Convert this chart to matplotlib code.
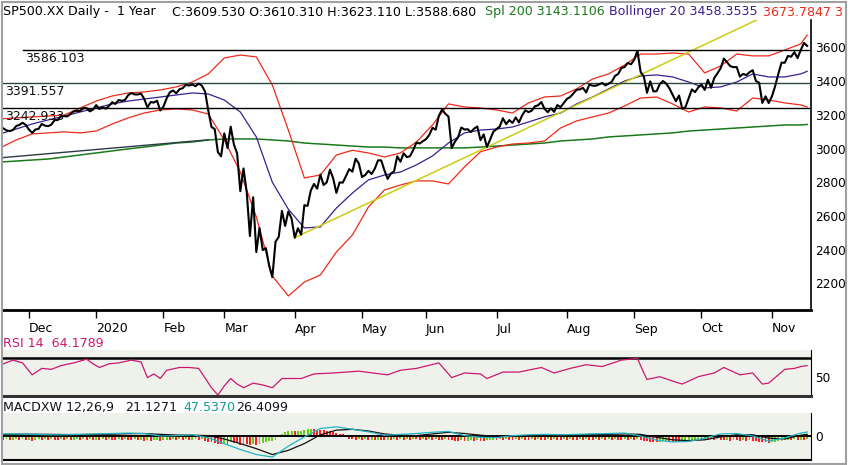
import numpy as np
import pandas as pd
import matplotlib
matplotlib.use("Agg")
import matplotlib.pyplot as plt
from matplotlib.patches import Rectangle

W, H = 850, 465

# trading calendar 18 Nov 2019 .. 17 Nov 2020
holidays = ["2019-11-28", "2019-12-25", "2020-01-01", "2020-01-20", "2020-02-17",
            "2020-04-10", "2020-05-25", "2020-07-03", "2020-09-07"]
days = pd.bdate_range("2019-11-18", "2020-11-17").drop(pd.to_datetime(holidays))

close = [
    3122, 3120, 3108, 3104, 3110, 3133, 3141, 3153, 3141,
    3113, 3093, 3113, 3117, 3146, 3136, 3133, 3142, 3169, 3169, 3192, 3192, 3191, 3206, 3221,
    3224, 3223, 3240, 3240, 3221, 3231,
    3258, 3235, 3246, 3237, 3253, 3275, 3265, 3288, 3283, 3289, 3317, 3330, 3321, 3321, 3326,
    3295, 3244, 3276, 3273, 3284, 3226,
    3249, 3298, 3334, 3345, 3328, 3352, 3358, 3379, 3374, 3380, 3370, 3386, 3373, 3338, 3226,
    3128, 3116, 2979, 2954,
    3090, 3003, 3130, 3024, 2972, 2747, 2882, 2741, 2481, 2711, 2386, 2529, 2398, 2409, 2305,
    2237, 2447, 2476, 2630, 2541, 2627, 2585,
    2471, 2527, 2489, 2664, 2660, 2750, 2790, 2762, 2846, 2784, 2800, 2875, 2823, 2737, 2799,
    2798, 2837, 2878, 2863, 2940, 2912,
    2831, 2843, 2868, 2849, 2881, 2930, 2930, 2871, 2820, 2852, 2864, 2954, 2922, 2972, 2949,
    2955, 2992, 3036, 3030, 3044,
    3056, 3081, 3123, 3112, 3194, 3232, 3207, 3190, 3002, 3041, 3067, 3125, 3113, 3115, 3098,
    3118, 3131, 3050, 3084, 3009, 3053, 3100,
    3116, 3130, 3180, 3145, 3169, 3152, 3185, 3155, 3197, 3227, 3216, 3225, 3251, 3257, 3276,
    3236, 3216, 3239, 3218, 3258, 3246, 3271,
    3295, 3306, 3327, 3349, 3351, 3360, 3333, 3380, 3373, 3373, 3381, 3389, 3375, 3385, 3397,
    3431, 3443, 3478, 3484, 3508, 3500,
    3527, 3580, 3455, 3427, 3331, 3399, 3339, 3341, 3383, 3401, 3385, 3357, 3319, 3281, 3315,
    3237, 3246, 3298, 3351, 3335, 3363,
    3381, 3348, 3408, 3361, 3419, 3447, 3477, 3534, 3512, 3489, 3483, 3484, 3427, 3443, 3436,
    3453, 3465, 3401, 3391, 3271, 3310, 3270,
    3310, 3370, 3443, 3510, 3509, 3550, 3545, 3572, 3537, 3585, 3627, 3609.53,
]

# bands / averages read every 5th session (plus the last one)
boll_upper = [3176, 3182, 3188, 3193, 3199, 3241, 3282, 3312, 3330, 3336,
              3348, 3366, 3395, 3443, 3538, 3555, 3544, 3377, 3110, 2826,
              2843, 2962, 2990, 2974, 2950, 2974, 3039, 3140, 3265, 3247,
              3241, 3229, 3211, 3271, 3306, 3312, 3354, 3413, 3443, 3496,
              3561, 3561, 3567, 3561, 3449, 3490, 3561, 3550, 3550, 3585,
              3621, 3673.78]
boll_mid = [3087, 3116, 3146, 3170, 3193, 3217, 3241, 3265, 3282, 3294,
            3306, 3318, 3330, 3324, 3288, 3217, 3069, 2800, 2640, 2529,
            2535, 2647, 2736, 2814, 2843, 2861, 2903, 2956, 3033, 3093,
            3110, 3116, 3128, 3158, 3188, 3211, 3265, 3306, 3354, 3401,
            3431, 3437, 3425, 3395, 3360, 3366, 3395, 3443, 3425, 3425,
            3443, 3458.35]
boll_lower = [3004, 3051, 3087, 3093, 3099, 3093, 3104, 3146, 3182, 3211,
              3229, 3235, 3229, 3205, 3051, 2861, 2594, 2244, 2125, 2208,
              2250, 2386, 2487, 2653, 2754, 2784, 2808, 2808, 2790, 2891,
              2981, 3009, 3027, 3033, 3045, 3122, 3164, 3188, 3211, 3253,
              3300, 3306, 3265, 3217, 3247, 3241, 3223, 3300, 3288, 3271,
              3259, 3247]
sma200 = [2920, 2926, 2932, 2938, 2950, 2962, 2974, 2986, 2998, 3009,
          3021, 3033, 3039, 3051, 3057, 3057, 3057, 3051, 3045, 3033,
          3027, 3021, 3015, 3009, 3009, 3004, 3004, 3004, 3004, 3004,
          3009, 3015, 3021, 3027, 3033, 3045, 3051, 3057, 3069, 3075,
          3081, 3087, 3093, 3104, 3110, 3116, 3122, 3128, 3134, 3140,
          3140, 3143.11]
macd_line = [25, 25, 20, 15, 15, 20, 25, 30, 35, 30,
             0, 5, 15, -20, -90, -160, -220, -250, -120, -10,
             90, 110, 80, 50, 10, 20, 30, 45, 55, 5,
             -15, -20, 5, 15, 20, 15, 20, 25, 30, 35,
             0, -50, -70, -65, -25, 25, 30, 0, -60, -20,
             35, 47.537]
macd_signal = [20, 22, 22, 20, 18, 18, 20, 22, 28, 30,
               20, 12, 10, 5, -35, -90, -150, -220, -170, -90,
               15, 70, 80, 60, 25, 10, 5, 25, 45, 30,
               10, -5, -5, 5, 10, 15, 15, 20, 20, 25,
               20, -15, -45, -55, -45, -10, 15, 15, -25, -35,
               10, 21.127]
macd_hist = [
    -40, -48, -36, -52, -42, -32, -48, -40, -52, -44,
    -55, -42, -36, -48, -40, -52, -32, -44, -50, -36,
    -46, -40, -52, -44, -36, -50, -40, -46, -36, -48,
    -44, -52, -40, -48, -36, -44, -50, -40, -46, -36,
    -44, -50, -40, -52, -46, -55, -50, -58, -52, -46,
    -55, -50, -44, -52, -40, -48, -36, -46, -40, -50,
    -44, -36, -48, -40, -55, -65, -75, -82, -92, -98,
    -80, -90, -72, -85, -88, -102, -90, -98, -110, -95,
    -104, -90, -86, -72, -64, -58, -45, 15, 30, 45,
    55, 60, 55, 60, 65, 72, 78, 82, 80, 76,
    74, 70, 62, 55, 48, 40, 30, 20, 10, -30,
    -40, -48, -36, -46, -40, -50, -44, -52, -44, -48,
    -52, -44, -50, -40, -46, -36, -44, -40, -48, -36,
    -40, -46, -36, -44, -40, -48, -36, -44, -50, -40,
    -46, -52, -55, -58, -52, -60, -55, -52, -58, -50,
    -55, -60, -52, -50, -44, -48, -40, -46, -36, -44,
    -48, -40, -46, -36, -44, -50, -40, -46, -36, -44,
    -50, -40, -46, -36, -44, -48, -40, -46, -36, -44,
    -50, -40, -46, -36, -44, -48, -40, -46, -36, -44,
    -40, -46, -36, -44, -50, -40, -46, -36, -44, -40,
    -50, -56, -62, -66, -70, -72, -68, -64, -62, -66,
    -70, -72, -75, -70, -64, -58, -54, -50, -44, -48,
    -40, -46, -36, -44, -40, -48, -52, -46, -55, -50,
    -52, -55, -50, -58, -52, -60, -64, -68, -72, -76,
    -78, -74, -68, -62, -55, -50, -44, -48, -40, -46,
    -44, -48, -40,
]

rsi_dates = ["2019-11-19", "2019-11-22", "2019-11-27", "2019-12-03", "2019-12-06",
             "2019-12-11", "2019-12-16", "2019-12-20", "2019-12-27", "2019-12-31",
             "2020-01-03", "2020-01-08", "2020-01-13", "2020-01-17", "2020-01-23",
             "2020-01-27", "2020-01-29", "2020-01-31", "2020-02-04", "2020-02-10",
             "2020-02-13", "2020-02-19", "2020-02-25", "2020-02-27", "2020-03-02",
             "2020-03-04", "2020-03-06", "2020-03-10", "2020-03-13", "2020-03-18",
             "2020-03-23", "2020-03-26", "2020-04-03", "2020-04-09", "2020-04-20",
             "2020-04-30", "2020-05-13", "2020-05-19", "2020-05-27", "2020-06-05",
             "2020-06-11", "2020-06-17", "2020-06-24", "2020-06-26", "2020-07-06",
             "2020-07-13", "2020-07-22", "2020-07-28", "2020-08-04", "2020-08-11",
             "2020-08-18", "2020-08-26", "2020-09-02", "2020-09-04", "2020-09-08",
             "2020-09-14", "2020-09-21", "2020-09-23", "2020-09-30", "2020-10-07",
             "2020-10-12", "2020-10-19", "2020-10-23", "2020-10-28", "2020-10-30",
             "2020-11-06", "2020-11-11", "2020-11-13", "2020-11-17"]
rsi_vals = [64, 68, 65, 52, 59, 58, 62, 65, 69, 64,
            60, 64, 65, 68, 66, 49, 53, 48, 57, 60,
            60, 59, 38, 30, 40, 48, 42, 38, 43, 41,
            38, 48, 48, 53, 54, 56, 52, 57, 59, 65,
            49, 54, 53, 48, 55, 55, 60, 54, 59, 63,
            61, 68, 70, 54, 47, 50, 44, 42, 50, 54,
            60, 52, 54, 42, 43, 58, 59, 61, 62]

levels = [3586.103, 3391.557, 3242.933]
level_start = ["2019-11-27", "2019-11-18", "2019-11-18"]
trend_dates = ["2020-04-01", "2020-10-27"]
trend_vals = [2471, 3770]
trend2_dates = ["2019-11-18", "2020-02-24"]
trend2_vals = [2945, 3052]
month_labels = ["Dec", "2020", "Feb", "Mar", "Apr", "May", "Jun", "Jul", "Aug", "Sep", "Oct", "Nov"]

pos = pd.Series(np.arange(len(days)), index=days)
xi = pos.values
band_x = np.r_[xi[::5], xi[-1]]
month_first = pos.groupby([days.year, days.month]).first().values[1:]


def px(names):
    return pos[pd.to_datetime(names)].values


def box(x0, y0, x1, y1):
    return [x0 / W, 1 - y1 / H, (x1 - x0) / W, (y1 - y0) / H]


fig = plt.figure(figsize=(W / 100, H / 100), dpi=100)
XL = (0.9, 253.2)

# ---- price panel
ax = fig.add_axes(box(3, 20, 811, 310))
ax.set_xlim(*XL)
ax.set_ylim(2042, 3763)
ax.plot(band_x, sma200, color="#1b7a1b", lw=1.1, zorder=2)
ax.plot(px(trend2_dates), trend2_vals, color="#2c3a48", lw=1.0, zorder=2)
ax.plot(band_x, boll_upper, color="#ee2a1a", lw=0.9, zorder=2)
ax.plot(band_x, boll_lower, color="#ee2a1a", lw=0.9, zorder=2)
ax.plot(band_x, boll_mid, color="#3c1e92", lw=0.9, zorder=2)
ax.plot(px(trend_dates), trend_vals, color="#cccc10", lw=1.1, zorder=3)
lev_colors = ["black", "#284840", "black"]
for lvl, start, c in zip(levels, level_start, lev_colors):
    x0 = max(px([start])[0], XL[0])
    ax.plot([x0, XL[1]], [lvl, lvl], color=c, lw=1.0, zorder=3)
    ax.annotate(f"{lvl:.3f}", xy=(x0, lvl), xytext=(1.5, -1.5), textcoords="offset points",
                ha="left", va="top", fontsize=9, color="#111111", zorder=6)
ax.plot(xi, close, color="black", lw=1.5, zorder=4)

for s in ["top", "left"]:
    ax.spines[s].set_visible(False)
ax.spines["bottom"].set_linewidth(2)
ax.spines["right"].set_linewidth(1.2)
ax.yaxis.tick_right()
ax.set_yticks(range(2200, 3601, 200))
ax.tick_params(axis="y", length=0, pad=3, labelsize=8.7)
ax.set_xticks(month_first)
ax.set_xticklabels(month_labels)
ax.tick_params(axis="x", direction="out", length=6, width=1, pad=3, labelsize=9)
for lbl in ax.get_xticklabels():
    lbl.set_ha("left")

# ---- RSI panel
ar = fig.add_axes(box(3, 350, 811, 396))
ar.set_facecolor("#eef2ea")
ar.set_xlim(*XL)
ar.set_ylim(29, 79)
ar.axhline(70, color="black", lw=1.8, zorder=1)
ar.plot(px(rsi_dates), rsi_vals, color="#cc1870", lw=0.9, zorder=2)
for s in ["top", "left"]:
    ar.spines[s].set_visible(False)
ar.spines["bottom"].set_linewidth(2.2)
ar.spines["bottom"].set_color("#333333")
ar.set_xticks([])
ar.yaxis.tick_right()
ar.set_yticks([50])
ar.tick_params(axis="y", length=0, pad=3, labelsize=8.7)

# ---- MACD panel
am = fig.add_axes(box(3, 413, 811, 460))
am.set_facecolor("#eef2ea")
am.set_xlim(*XL)
am.set_ylim(-285, 274)
hist = np.array(macd_hist, dtype=float)
rising = np.r_[True, hist[1:] >= hist[:-1]]
am.bar(xi, hist, width=0.6, color=np.where(rising, "#66cc1e", "#ff1e1e"),
       linewidth=0, zorder=1)
am.axhline(0, color="black", lw=1.4, zorder=2)
am.plot(band_x, macd_signal, color="#111111", lw=0.9, zorder=3)
am.plot(band_x, macd_line, color="#22b4c0", lw=0.9, zorder=3)
for s in ["top", "left"]:
    am.spines[s].set_visible(False)
am.spines["bottom"].set_linewidth(1.5)
am.set_xticks([])
am.yaxis.tick_right()
am.set_yticks([0])
am.tick_params(axis="y", length=0, pad=3, labelsize=8.7)

# ---- header texts
tx = fig.add_axes(box(2, 2, 843, 22))
tx.set_xlim(2, 843)
tx.set_ylim(22, 2)
tx.axis("off")
header = [(3, "SP500.XX Daily -  1 Year", "black"),
          (172, "C:3609.530 O:3610.310 H:3623.110 L:3588.680", "black"),
          (485, "Spl 200 3143.1106", "#1b7a1b"),
          (609, "Bollinger 20 3458.3535", "#3c1e92"),
          (763, "3673.7847 3243.9222", "#ee2a1a")]
for x, s, c in header:
    tx.text(x, 12, s, color=c, fontsize=9.1, va="center", ha="left", clip_on=True)

fig.text(3 / W, 1 - 343 / H, "RSI 14  64.1789", color="#cc1870", fontsize=9.1, va="center")
macd_lab = [(3, "MACDXW 12,26,9", "#111122"), (125, "21.1271", "#111122"),
            (183, "47.5370", "#1a9a90"), (236, "26.4099", "#111122")]
for x, s, c in macd_lab:
    fig.text(x / W, 1 - 407 / H, s, color=c, fontsize=9.1, va="center")

fig.add_artist(Rectangle((1.5 / W, 1.5 / H), 844 / W, 461.5 / H, transform=fig.transFigure,
                         fill=False, ec="#a0a0a0", lw=1.5))

fig.savefig("out.png", dpi=100)
